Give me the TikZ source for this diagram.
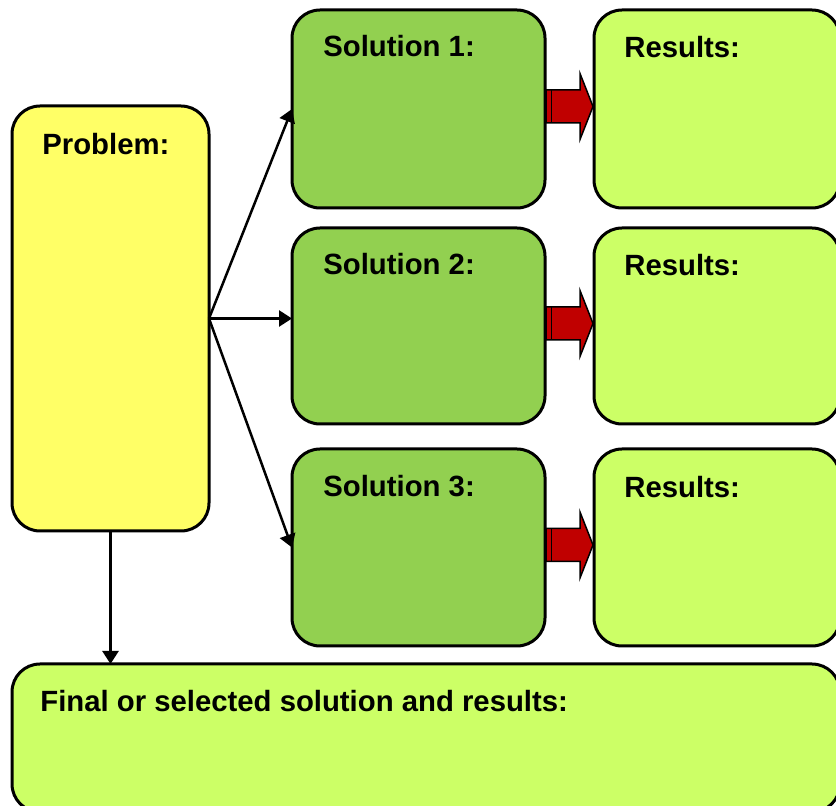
\documentclass[tikz,border=0pt]{standalone}
\usepackage{fontspec}
\setmainfont{Liberation Sans}
\usetikzlibrary{arrows.meta}

\definecolor{probyellow}{HTML}{FFFF66}
\definecolor{solgreen}{HTML}{92D050}
\definecolor{reslime}{HTML}{CCFF66}
\definecolor{arrowred}{HTML}{C00000}

\begin{document}
\begin{tikzpicture}[x=0.5pt, y=-0.5pt,
  box/.style={draw, line width=1.5pt, rounded corners=14pt, inner sep=0pt, outer sep=0pt},
  heading/.style={anchor=base west, inner sep=0pt, font=\fontsize{14.65}{17}\selectfont\bfseries},
  link/.style={line width=1.25pt, -{Triangle[length=6.5pt, width=8pt]}},
  blockarrow/.style={fill=arrowred, draw=black, line width=0.75pt, line join=miter}]
  \useasboundingbox (0,0) rectangle (836,806);
  \clip (0,0) rectangle (836,806);

  \node (problem) [box, fill=probyellow, minimum width=98.5pt, minimum height=212.5pt] at (110.5, 318.5) {};
  \node (sol1) [box, fill=solgreen, minimum width=126.5pt, minimum height=99pt] at (418.5, 109) {};
  \node (sol2) [box, fill=solgreen, minimum width=126.5pt, minimum height=98pt] at (418.5, 326) {};
  \node (sol3) [box, fill=solgreen, minimum width=126.5pt, minimum height=98.5pt] at (418.5, 547.5) {};
  \node (res1) [box, fill=reslime, minimum width=123pt, minimum height=99pt] at (717, 109) {};
  \node (res2) [box, fill=reslime, minimum width=123pt, minimum height=98pt] at (717, 326) {};
  \node (res3) [box, fill=reslime, minimum width=123pt, minimum height=98.5pt] at (717, 547.5) {};
  \node (final) [box, fill=reslime, minimum width=414pt, minimum height=74pt] at (426, 738) {};

  \node (problem-title) [heading] at (42, 155) {Problem:};
  \node (sol1-title) [heading] at (323, 57) {Solution 1:};
  \node (sol2-title) [heading] at (323, 275) {Solution 2:};
  \node (sol3-title) [heading] at (323, 497) {Solution 3:};
  \node (res1-title) [heading] at (624, 58) {Results:};
  \node (res2-title) [heading] at (624, 276) {Results:};
  \node (res3-title) [heading] at (624, 498) {Results:};
  \node (final-title) [heading] at (40, 712) {Final or selected solution and results:};

  \draw[link] (problem.east) -- (sol1.west);
  \draw[link] (problem.east) -- (problem.east -| sol2.west);
  \draw[link] (problem.east) -- (sol3.west);
  \draw[link] (problem.south) -- (problem.south |- final.north);

  % red block arrows from each solution to its results
  \foreach \i in {1,2,3} {
    \draw[blockarrow] (sol\i.east) ++(1,-19) -- ++(34,0) -- ++(0,-16.5) -- ++(13,33)
      -- ++(-13,33) -- ++(0,-16.5) -- ++(-34,0) -- cycle;
    \draw[line width=0.75pt] (sol\i.east) ++(6.5,-19) -- ++(0,33);
  }
\end{tikzpicture}
\end{document}
